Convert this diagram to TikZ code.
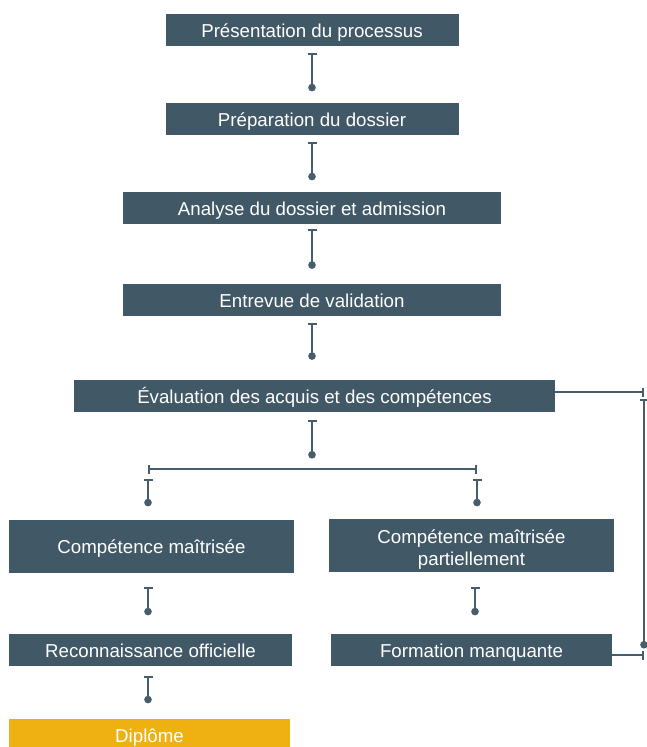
\documentclass[tikz,border=0pt]{standalone}
\usepackage{fontspec}
\setmainfont{Liberation Sans}
\usetikzlibrary{arrows.meta}

\definecolor{boxc}{RGB}{65,88,103}
\definecolor{linec}{RGB}{70,93,108}
\definecolor{goldc}{RGB}{239,177,18}

\tikzset{
  etape/.style={fill=boxc, text=white, inner sep=0pt, minimum height=32pt,
    align=center, text height=16pt, text depth=2pt,
    font=\fontsize{18.7}{22}\selectfont},
  trait/.style={draw=linec, line width=1.8pt},
  lien/.style={trait, {Bar[width=9pt]}-{Circle[length=7.5pt]}},
  bout/.style={trait, -{Bar[width=9pt]}}
}

\begin{document}
\begin{tikzpicture}[x=1pt,y=-1pt]
  \useasboundingbox (0,0) rectangle (647,747);

  % etapes
  \node[etape, minimum width=293pt] (presentation) at (312,30) {Présentation du processus};
  \node[etape, minimum width=293pt] (preparation) at (312,119) {Préparation du dossier};
  \node[etape, minimum width=378pt] (analyse) at (312,208) {Analyse du dossier et admission};
  \node[etape, minimum width=378pt] (entrevue) at (312,300) {Entrevue de validation};
  \node[etape, minimum width=481pt] (evaluation) at (314.5,396) {Évaluation des acquis et des compétences};
  \node[etape, minimum width=285pt, minimum height=53pt] (maitrisee) at (151.5,546.5) {Compétence maîtrisée};
  \node[etape, minimum width=285pt, minimum height=53pt, text height=39pt, text depth=0pt] (partielle) at (471.5,545.5) {Compétence maîtrisée\\partiellement};
  \node[etape, minimum width=283pt] (reconnaissance) at (150.5,650) {Reconnaissance officielle};
  \node[etape, minimum width=281pt] (formation) at (471.5,650) {Formation manquante};
  \node[etape, fill=goldc, minimum width=281pt] (diplome) at (149.5,735) {Diplôme};

  % points de passage
  \coordinate (partage) at (312,469);
  \coordinate (gauche) at (148,469);
  \coordinate (droite) at (477,469);
  \coordinate (retourH) at (644,392);
  \coordinate (retourB) at (644,655);

  % liens verticaux
  \draw[lien, shorten <=7pt, shorten >=11.5pt] (presentation) -- (preparation);
  \draw[lien, shorten <=7pt, shorten >=11.5pt] (preparation) -- (analyse);
  \draw[lien, shorten <=5pt, shorten >=15pt] (analyse) -- (entrevue);
  \draw[lien, shorten <=7pt, shorten >=20pt] (entrevue) -- (entrevue.south |- evaluation.north);
  \draw[lien, shorten <=8pt, shorten >=10.5pt] (partage |- evaluation.south) -- (partage);

  % embranchement
  \draw[trait, {Bar[width=9pt]}-{Bar[width=9pt]}] (gauche) -- (droite);
  \draw[lien, shorten <=10pt, shorten >=13.5pt] (gauche) -- (gauche |- maitrisee.north);
  \draw[lien, shorten <=10pt, shorten >=12.5pt] (droite) -- (droite |- partielle.north);
  \draw[lien, shorten <=14pt, shorten >=18.5pt] (gauche |- maitrisee.south) -- (gauche |- reconnaissance.north);
  \draw[lien, shorten <=15pt, shorten >=18.5pt] ([xshift=3.5pt]partielle.south) -- ([xshift=3.5pt]formation.north);
  \draw[lien, shorten <=10pt, shorten >=15.5pt] (gauche |- reconnaissance.south) -- (gauche |- diplome.north);

  % retour vers l'evaluation
  \draw[bout] (evaluation.east |- retourH) -- (retourH);
  \draw[lien, shorten <=7pt, shorten >=6.5pt] (retourH) -- (retourB);
  \draw[bout] (formation.east |- retourB) -- (retourB);
\end{tikzpicture}
\end{document}
